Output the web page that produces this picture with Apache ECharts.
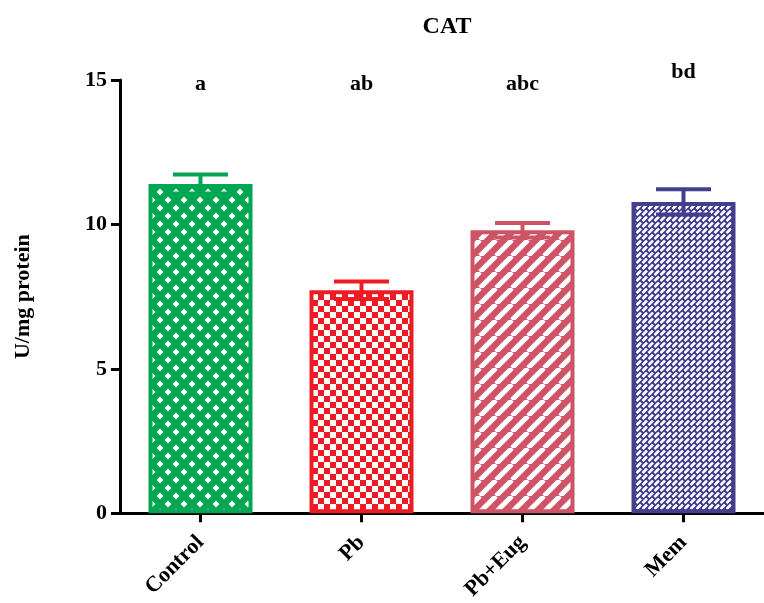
<!DOCTYPE html>
<html>
<head>
<meta charset="utf-8">
<script src="https://cdn.jsdelivr.net/npm/echarts@6/dist/echarts.min.js"></script>
<style>
  html, body { margin: 0; padding: 0; background: #fff; }
  #chart { width: 764px; height: 603px; }
</style>
</head>
<body>
<div id="chart"></div>
<script>
// data
const categories = ['Control', 'Pb', 'Pb+Eug', 'Mem'];
const means = [11.4, 7.72, 9.8, 10.78];
const sems = [0.33, 0.3, 0.25, 0.44];
const sigLetters = ['a', 'ab', 'abc', 'bd'];
const yTicks = [0, 5, 10, 15];

const colors = ['#00a651', '#ed1c24', '#cd5466', '#433f8c'];
const letterShift = [0, 0, 0, -12];
const serif = "'Liberation Serif', 'Times New Roman', serif";

function makeTile(size, draw) {
    const c = document.createElement('canvas');
    c.width = size;
    c.height = size;
    draw(c.getContext('2d'), size);
    return c;
}

// control: white diamonds on green
const tileDiamond = makeTile(16, function (ctx, s) {
    ctx.fillStyle = colors[0];
    ctx.fillRect(0, 0, s, s);
    ctx.fillStyle = '#fff';
    [[0, 0], [s, 0], [0, s], [s, s], [s / 2, s / 2]].forEach(function (p) {
        ctx.beginPath();
        ctx.moveTo(p[0], p[1] - 3.4);
        ctx.lineTo(p[0] + 3.4, p[1]);
        ctx.lineTo(p[0], p[1] + 3.4);
        ctx.lineTo(p[0] - 3.4, p[1]);
        ctx.closePath();
        ctx.fill();
    });
});

// Pb: checkerboard
const tileChecker = makeTile(12, function (ctx, s) {
    ctx.fillStyle = '#fff';
    ctx.fillRect(0, 0, s, s);
    ctx.fillStyle = colors[1];
    ctx.fillRect(0, 0, s / 2, s / 2);
    ctx.fillRect(s / 2, s / 2, s / 2, s / 2);
});

// Pb+Eug: wide diagonal stripes
const tileStripe = makeTile(16, function (ctx, s) {
    ctx.fillStyle = colors[2];
    ctx.fillRect(0, 0, s, s);
    ctx.strokeStyle = '#fff';
    ctx.lineWidth = 5;
    [-s, 0, s].forEach(function (o) {
        ctx.beginPath();
        ctx.moveTo(o, s);
        ctx.lineTo(o + s, 0);
        ctx.stroke();
    });
});

// Mem: fine diagonal dashes
const tileDash = makeTile(6, function (ctx, s) {
    ctx.fillStyle = colors[3];
    ctx.fillRect(0, 0, s, s);
    ctx.strokeStyle = '#fff';
    ctx.lineWidth = 2.6;
    ctx.beginPath();
    ctx.moveTo(0.5, 5);
    ctx.lineTo(5, 0.5);
    ctx.stroke();
});

const tiles = [tileDiamond, tileChecker, tileStripe, tileDash];

const chart = echarts.init(document.getElementById('chart'));

const option = {
    animation: false,
    title: {
        text: 'CAT',
        left: 442,
        top: 10,
        textAlign: 'center',
        textStyle: { fontFamily: serif, fontWeight: 'bold', fontSize: 24, color: '#000' }
    },
    grid: { left: 120, top: 80, width: 648, bottom: 88 },
    xAxis: {
        type: 'category',
        data: categories,
        axisLine: { lineStyle: { color: '#000', width: 3 } },
        axisTick: { show: true, inside: false, alignWithLabel: true, length: 9, lineStyle: { color: '#000', width: 3 } },
        axisLabel: {
            rotate: 45,
            margin: 26,
            color: '#000',
            fontFamily: serif,
            fontWeight: 'bold',
            fontSize: 22
        }
    },
    yAxis: {
        type: 'value',
        min: yTicks[0],
        max: yTicks[yTicks.length - 1],
        interval: yTicks[1] - yTicks[0],
        name: 'U/mg protein',
        nameLocation: 'middle',
        nameGap: 86,
        nameTextStyle: { fontFamily: serif, fontWeight: 'bold', fontSize: 22, color: '#000' },
        splitLine: { show: false },
        axisLine: { show: true, lineStyle: { color: '#000', width: 3 } },
        axisTick: { show: true, inside: false, length: 9, lineStyle: { color: '#000', width: 3 } },
        axisLabel: {
            margin: 13,
            color: '#000',
            fontFamily: serif,
            fontWeight: 'bold',
            fontSize: 22
        }
    },
    series: [
        {
            type: 'bar',
            barWidth: 104,
            data: means.map(function (m, i) {
                return {
                    value: m,
                    itemStyle: {
                        color: { image: tiles[i], repeat: 'repeat' },
                        borderColor: colors[i],
                        borderWidth: 4
                    }
                };
            })
        },
        {
            type: 'custom',
            z: 5,
            data: means.map(function (m, i) { return [i, m, sems[i]]; }),
            renderItem: function (params, api) {
                const i = api.value(0);
                const m = api.value(1);
                const e = api.value(2);
                const top = api.coord([i, m + e]);
                const bot = api.coord([i, m - e]);
                const hw = 27.5;
                const st = { stroke: colors[i], lineWidth: 4 };
                return {
                    type: 'group',
                    children: [
                        { type: 'line', shape: { x1: top[0], y1: top[1], x2: bot[0], y2: bot[1] }, style: st },
                        { type: 'line', shape: { x1: top[0] - hw, y1: top[1], x2: top[0] + hw, y2: top[1] }, style: st },
                        { type: 'line', shape: { x1: bot[0] - hw, y1: bot[1], x2: bot[0] + hw, y2: bot[1] }, style: st }
                    ]
                };
            }
        },
        {
            type: 'custom',
            z: 6,
            data: sigLetters.map(function (s, i) { return [i, yTicks[yTicks.length - 1]]; }),
            renderItem: function (params, api) {
                const i = api.value(0);
                const p = api.coord([i, api.value(1)]);
                return {
                    type: 'text',
                    x: p[0],
                    y: p[1] + 15 + letterShift[i],
                    style: {
                        text: sigLetters[i],
                        align: 'center',
                        verticalAlign: 'bottom',
                        fill: '#000',
                        font: 'bold 22px ' + serif
                    }
                };
            }
        }
    ]
};

chart.setOption(option);
window.addEventListener('resize', function () {
    chart.resize();
});
</script>
</body>
</html>
